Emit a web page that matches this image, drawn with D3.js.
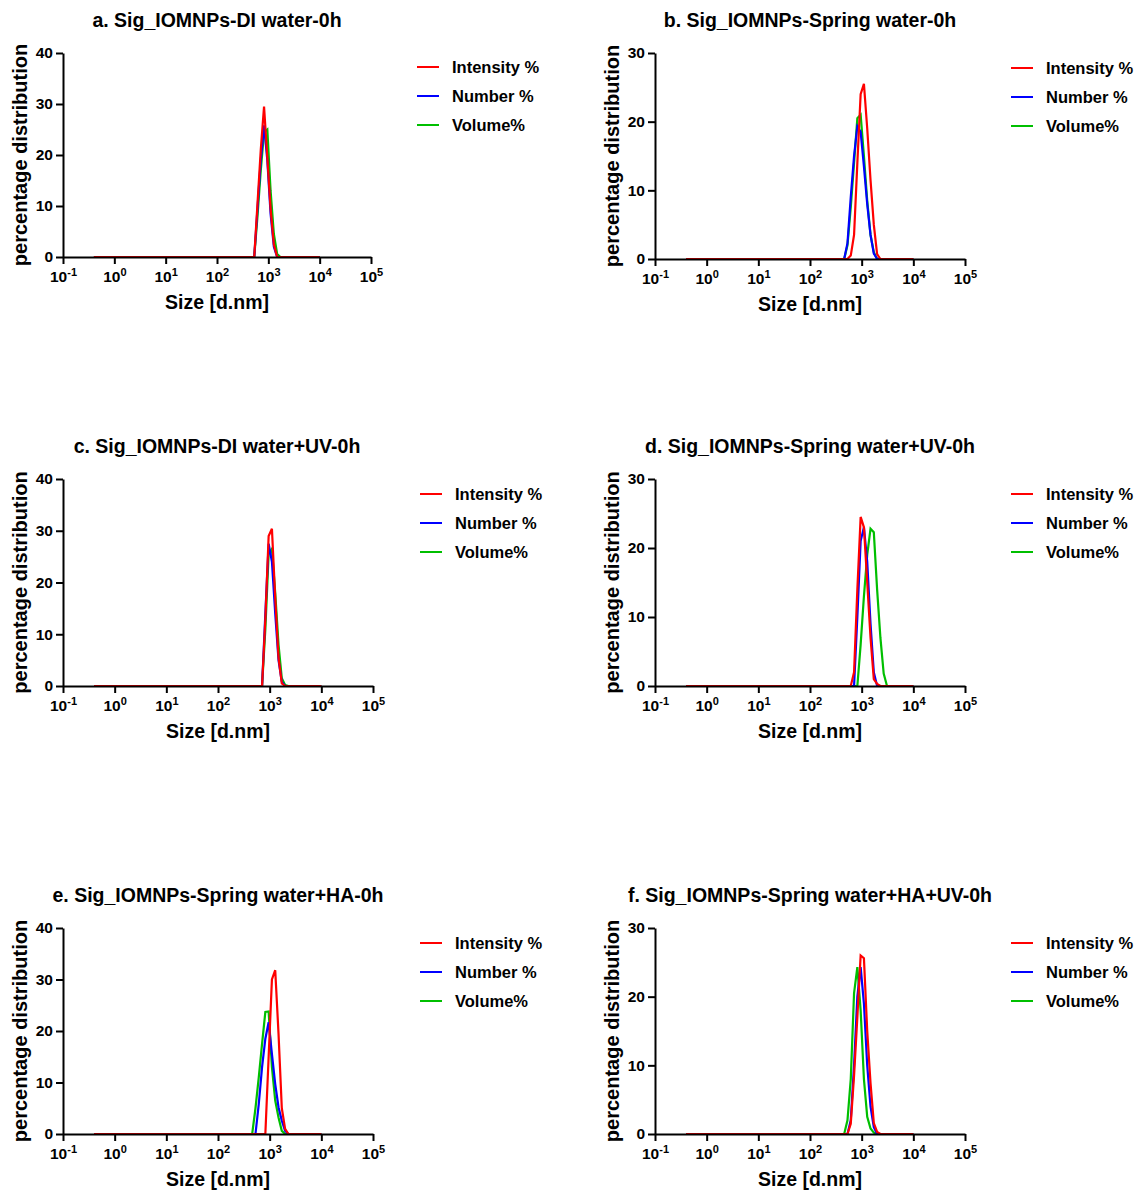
<!DOCTYPE html>
<html>
<head>
<meta charset="utf-8">
<script src="https://cdn.jsdelivr.net/npm/d3@7"></script>
<style>
  body { margin: 0; background: #fff; }
  svg { display: block; }
  text { font-family: Arial, "Liberation Sans", sans-serif; font-weight: bold; fill: #000; }
</style>
</head>
<body>
<svg id="chart" width="1141" height="1196"></svg>
<script>
// DLS size distributions, [size nm, %] -- only the non-zero stretch, baseline runs 0.4 .. 10000 nm
const sizeRange = [0.4, 10000];
const decadeTicks = [1e-1, 1e0, 1e1, 1e2, 1e3, 1e4, 1e5];
const decadeExps = ["-1", "0", "1", "2", "3", "4", "5"];
const seriesNames = ["Intensity %", "Number %", "Volume%"];
const seriesColors = ["#ff0000", "#0000ff", "#00bf00"];

const aIntensity = [[531.2,0],[615.1,10.5],[712.4,21],[825,29.5],[955.4,19.5],[1106,9.5],[1281,2.5],[1484,0]];
const aNumber    = [[531.2,0],[615.1,9.5],[712.4,19],[825,25.8],[955.4,19],[1106,8.5],[1281,2],[1484,0]];
const aVolume    = [[531.2,0],[615.1,8],[712.4,17],[825,24.5],[955.4,25],[1106,13],[1281,4.5],[1484,0.6],[1718,0]];

const bIntensity = [[531.2,0],[615.1,0.5],[712.4,3.5],[825,14],[955.4,24],[1106,25.5],[1281,19],[1484,11.5],[1718,5],[1990,0.7],[2305,0]];
const bNumber    = [[458.7,0],[531.2,2.3],[615.1,9],[712.4,15],[825,19.3],[955.4,18.5],[1106,13.5],[1281,8],[1484,3.5],[1718,0.8],[1990,0]];
const bVolume    = [[458.7,0],[531.2,2],[615.1,7.5],[712.4,14],[825,20.5],[955.4,21],[1106,15],[1281,8.5],[1484,3.5],[1718,1],[1990,0]];

const cIntensity = [[712.4,0],[825,13],[955.4,29],[1106,30.4],[1281,17],[1484,5.5],[1718,0.5],[1990,0]];
const cNumber    = [[712.4,0],[825,14],[955.4,27.5],[1106,24],[1281,14],[1484,5],[1718,0.8],[1990,0]];
const cVolume    = [[712.4,0],[825,11],[955.4,25.5],[1106,26.5],[1281,18],[1484,8],[1718,1.5],[1990,0.2],[2305,0]];

const dIntensity = [[615.1,0],[712.4,2],[825,14],[955.4,24.5],[1106,23],[1281,15],[1484,7],[1718,1],[1990,0.3],[2305,0]];
const dNumber    = [[712.4,0],[825,10],[955.4,21],[1106,23],[1281,18],[1484,9],[1718,2],[1990,0]];
const dVolume    = [[825,0],[955.4,6],[1106,13],[1281,19],[1484,22.8],[1718,22.3],[1990,14],[2305,7],[2669,1.8],[3091,0]];

const eIntensity = [[825,0],[955.4,15],[1106,30],[1281,31.8],[1484,19.5],[1718,5],[1990,1],[2305,0]];
const eNumber    = [[531.2,0],[615.1,5.8],[712.4,13],[825,18.5],[955.4,21.7],[1106,15.5],[1281,9.7],[1484,5.2],[1718,2.6],[1990,0.6],[2305,0]];
const eVolume    = [[458.7,0],[531.2,5],[615.1,11],[712.4,17.5],[825,23.7],[955.4,23.8],[1106,13],[1281,6.5],[1484,3.2],[1718,0.6],[1990,0]];

const fIntensity = [[531.2,0],[615.1,1.5],[712.4,8.5],[825,17],[955.4,26],[1106,25.6],[1281,15],[1484,7.4],[1718,1.6],[1990,0.3],[2305,0]];
const fNumber    = [[531.2,0],[615.1,2],[712.4,10],[825,20],[955.4,24.3],[1106,19],[1281,10],[1484,4],[1718,1],[1990,0]];
const fVolume    = [[458.7,0],[531.2,2],[615.1,8],[712.4,20.5],[825,24.3],[955.4,18],[1106,8],[1281,2.5],[1484,0.8],[1718,0.2],[1990,0]];

const titles = [
  "a. Sig_IOMNPs-DI water-0h",
  "b. Sig_IOMNPs-Spring water-0h",
  "c. Sig_IOMNPs-DI water+UV-0h",
  "d. Sig_IOMNPs-Spring water+UV-0h",
  "e. Sig_IOMNPs-Spring water+HA-0h",
  "f. Sig_IOMNPs-Spring water+HA+UV-0h"
];
const yMaxes = [40, 30, 40, 30, 40, 30];
const panelSeries = [
  [aIntensity, aNumber, aVolume],
  [bIntensity, bNumber, bVolume],
  [cIntensity, cNumber, cVolume],
  [dIntensity, dNumber, dVolume],
  [eIntensity, eNumber, eVolume],
  [fIntensity, fNumber, fVolume]
];

// layout of each panel (plot box + legend spot)
const layout = [
  { left: 63,  right: 371, top: 53,  bottom: 257, titleX: 217, legX: 417,  legY: 67 },
  { left: 655, right: 965, top: 53,  bottom: 259, titleX: 810, legX: 1011, legY: 68 },
  { left: 63,  right: 373, top: 479, bottom: 686, titleX: 217, legX: 420,  legY: 494 },
  { left: 655, right: 965, top: 479, bottom: 686, titleX: 810, legX: 1011, legY: 494 },
  { left: 63,  right: 373, top: 928, bottom: 1134, titleX: 218, legX: 420, legY: 943 },
  { left: 655, right: 965, top: 928, bottom: 1134, titleX: 810, legX: 1011, legY: 943 }
];

const svg = d3.select("#chart");

layout.forEach((L, i) => {
  const g = svg.append("g");
  const x = d3.scaleLog().domain([1e-1, 1e5]).range([L.left, L.right]);
  const y = d3.scaleLinear().domain([0, yMaxes[i]]).range([L.bottom, L.top]);

  // title
  g.append("text")
    .attr("x", L.titleX).attr("y", L.top - 26.5)
    .attr("text-anchor", "middle")
    .style("font-size", "19.5px")
    .text(titles[i]);

  // curves: volume, number, then intensity on top
  const line = d3.line().x(d => x(d[0])).y(d => y(d[1]));
  [2, 1, 0].forEach(s => {
    const pts = [[sizeRange[0], 0]].concat(panelSeries[i][s], [[sizeRange[1], 0]]);
    g.append("path")
      .datum(pts)
      .attr("fill", "none")
      .attr("stroke", seriesColors[s])
      .attr("stroke-width", 2.2)
      .attr("d", line);
  });

  // axes
  const xAxis = g.append("g")
    .attr("transform", `translate(0,${L.bottom})`)
    .call(d3.axisBottom(x).tickValues(decadeTicks).tickFormat(() => "").tickSize(7).tickSizeOuter(0));
  const yAxis = g.append("g")
    .attr("transform", `translate(${L.left},0)`)
    .call(d3.axisLeft(y).ticks(yMaxes[i] / 10).tickSize(7).tickSizeOuter(0));

  [xAxis, yAxis].forEach(ax => {
    ax.select(".domain").attr("stroke", "#000").attr("stroke-width", 2);
    ax.selectAll(".tick line").attr("stroke", "#000").attr("stroke-width", 2);
  });
  yAxis.selectAll(".tick text")
    .attr("x", -10)
    .style("font-family", "Arial, 'Liberation Sans', sans-serif")
    .style("font-weight", "bold")
    .style("font-size", "15.5px");

  // decade labels 10^n
  xAxis.selectAll(".tick text").remove();
  xAxis.selectAll(".tick").each(function (d, k) {
    const t = d3.select(this).append("text")
      .attr("y", 25)
      .attr("text-anchor", "middle")
      .style("font-size", "15.5px")
      .attr("fill", "#000");
    t.append("tspan").text("10");
    t.append("tspan").attr("dy", -6).style("font-size", "11px").text(decadeExps[k]);
  });

  // axis titles
  g.append("text")
    .attr("x", (L.left + L.right) / 2).attr("y", L.bottom + 52)
    .attr("text-anchor", "middle")
    .style("font-size", "19.5px")
    .text("Size [d.nm]");
  g.append("text")
    .attr("transform", `translate(${L.left - 36},${(L.top + L.bottom) / 2}) rotate(-90)`)
    .attr("text-anchor", "middle")
    .style("font-size", "20px")
    .text("percentage distribution");

  // legend
  seriesNames.forEach((name, s) => {
    const ly = L.legY + s * 29;
    g.append("line")
      .attr("x1", L.legX).attr("x2", L.legX + 22)
      .attr("y1", ly).attr("y2", ly)
      .attr("stroke", seriesColors[s]).attr("stroke-width", 2);
    g.append("text")
      .attr("x", L.legX + 35).attr("y", ly + 6)
      .style("font-size", "16.5px")
      .text(name);
  });
});
</script>
</body>
</html>
